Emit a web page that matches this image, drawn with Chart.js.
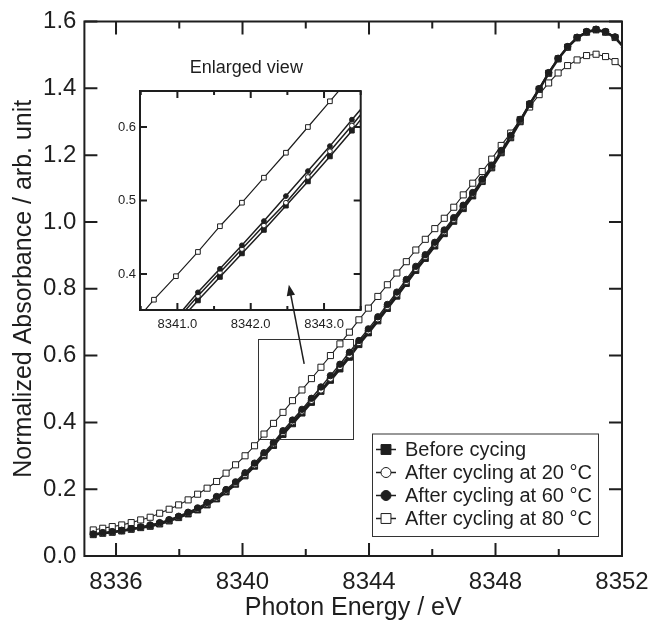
<!DOCTYPE html>
<html><head><meta charset="utf-8">
<script src="https://cdn.jsdelivr.net/npm/chart.js@4.4.1/dist/chart.umd.min.js"></script>
<style>
html,body{margin:0;padding:0;background:#fff;}
#wrap{position:relative;width:653px;height:623px;}
canvas{position:absolute;left:0;top:0;}
</style></head><body>
<div id="wrap"><canvas id="main" width="653" height="623"></canvas><canvas id="inset" width="653" height="623"></canvas></div>
<script>
// ---- data ----
const energy = [8335.28,8335.58,8335.88,8336.18,8336.48,8336.78,8337.08,8337.38,8337.68,8337.98,
8338.28,8338.58,8338.88,8339.18,8339.48,8339.78,8340.08,8340.38,8340.68,8340.98,
8341.28,8341.58,8341.88,8342.18,8342.48,8342.78,8343.08,8343.38,8343.68,8343.98,
8344.28,8344.58,8344.88,8345.18,8345.48,8345.78,8346.08,8346.38,8346.68,8346.98,
8347.28,8347.58,8347.88,8348.18,8348.48,8348.78,8349.08,8349.38,8349.68,8349.98,
8350.28,8350.58,8350.88,8351.18,8351.48,8351.78,8352.08];
const beforeCycling = [0.064,0.068,0.071,0.075,0.080,0.085,0.089,0.096,0.105,0.115,
0.126,0.138,0.153,0.171,0.192,0.215,0.240,0.269,0.300,0.331,
0.364,0.396,0.428,0.460,0.493,0.526,0.560,0.595,0.633,0.668,
0.704,0.741,0.778,0.816,0.855,0.891,0.928,0.965,1.002,1.040,
1.078,1.121,1.162,1.207,1.252,1.300,1.352,1.397,1.445,1.488,
1.523,1.551,1.568,1.575,1.568,1.552,1.520];
const cycling20 = [0.065,0.069,0.072,0.076,0.081,0.086,0.091,0.098,0.107,0.117,
0.129,0.141,0.156,0.174,0.195,0.218,0.244,0.273,0.304,0.336,
0.370,0.402,0.434,0.466,0.497,0.532,0.567,0.602,0.639,0.674,
0.710,0.747,0.784,0.822,0.861,0.897,0.934,0.971,1.008,1.046,
1.084,1.125,1.166,1.211,1.256,1.304,1.353,1.398,1.446,1.489,
1.524,1.552,1.569,1.576,1.569,1.553,1.521];
const cycling60 = [0.066,0.070,0.073,0.077,0.082,0.087,0.093,0.100,0.109,0.119,
0.131,0.144,0.160,0.178,0.199,0.222,0.249,0.278,0.309,0.340,
0.375,0.407,0.439,0.472,0.506,0.540,0.574,0.610,0.645,0.680,
0.716,0.753,0.790,0.828,0.867,0.902,0.939,0.976,1.013,1.050,
1.088,1.128,1.169,1.214,1.259,1.307,1.354,1.399,1.447,1.490,
1.525,1.553,1.570,1.577,1.570,1.554,1.522];
const cycling80 = [0.078,0.083,0.088,0.093,0.100,0.108,0.116,0.128,0.140,0.153,
0.168,0.185,0.203,0.223,0.248,0.273,0.300,0.330,0.365,0.397,
0.430,0.465,0.497,0.531,0.565,0.600,0.635,0.670,0.707,0.742,
0.777,0.812,0.847,0.881,0.916,0.948,0.980,1.011,1.044,1.081,
1.116,1.151,1.188,1.229,1.266,1.306,1.344,1.381,1.416,1.446,
1.468,1.485,1.498,1.502,1.495,1.480,1.455];
const seriesNames = ['Before cycing','After cycling at 20 °C','After cycling at 60 °C','After cycling at 80 °C'];
const xMajorTicks = [8336,8340,8344,8348,8352];
const xMinorTicks = [8338,8342,8346,8350];
const yTicks = [0.0,0.2,0.4,0.6,0.8,1.0,1.2,1.4,1.6];
const insetXMajorTicks = [8341.0,8342.0,8343.0];
const insetXMinorTicks = [8340.5,8341.5,8342.5,8343.5];
const insetYTicks = [0.4,0.5,0.6];
const insetXRange = [8340.49,8343.5];
const insetYRange = [0.351,0.649];
const xTitle = 'Photon Energy / eV';
const yTitle = 'Normalized Absorbance / arb. unit';
const insetTitle = 'Enlarged view';

// ---- chart ----
const FONT = "'Liberation Sans', Arial, Helvetica, sans-serif";
const INK = '#1e1e1e';
const seriesArrays = [beforeCycling, cycling20, cycling60, cycling80];
const styles = [
  {pointStyle:'rect', fill:INK, order:2},
  {pointStyle:'circle', fill:'#fff', order:1},
  {pointStyle:'circle', fill:INK, order:0},
  {pointStyle:'rect', fill:'#fff', order:3}
];
function makeDatasets(isInset){
  return seriesArrays.map((arr,i)=>{
    const s = styles[i];
    const rect = s.pointStyle==='rect';
    return {
      label: seriesNames[i],
      data: energy.map((x,k)=>({x:x, y:arr[k]})),
      showLine:true,
      borderColor: INK,
      borderWidth: isInset ? (i===3?1.2:1.5) : (i===0?2.6:(i===3?1.1:1.4)),
      pointStyle: s.pointStyle,
      pointRadius: isInset ? (rect?3.3:2.4) : (rect?4.3:3.2),
      pointBackgroundColor: s.fill,
      pointBorderColor: INK,
      pointBorderWidth: 1,
      order: s.order,
      clip: 0
    };
  });
}
function framePlugin(name, cfg){
  return {id:'frame'+name, afterDatasetsDraw(chart){
    const {ctx, chartArea:ca, scales:{x,y}} = chart;
    ctx.save();
    ctx.strokeStyle = INK; ctx.lineWidth = cfg.lw;
    ctx.beginPath();
    const vx = (list,len)=>list.forEach(v=>{const p=x.getPixelForValue(v);
      ctx.moveTo(p,ca.bottom); ctx.lineTo(p,ca.bottom-len);
      ctx.moveTo(p,ca.top); ctx.lineTo(p,ca.top+len);});
    vx(cfg.xMajor,cfg.major); vx(cfg.xMinor,cfg.minor);
    cfg.yTicks.forEach(v=>{const p=y.getPixelForValue(v);
      ctx.moveTo(ca.left,p); ctx.lineTo(ca.left+cfg.major,p);
      ctx.moveTo(ca.right,p); ctx.lineTo(ca.right-cfg.major,p);});
    ctx.stroke();
    ctx.strokeRect(ca.left, ca.top, ca.right-ca.left, ca.bottom-ca.top);
    ctx.restore();
  }};
}
const zoomRectPlugin = {id:'zoomRect', afterDatasetsDraw(chart){
  const {ctx, scales:{x,y}} = chart;
  const l=x.getPixelForValue(insetXRange[0]), r=x.getPixelForValue(insetXRange[1]);
  const t=y.getPixelForValue(insetYRange[1]), b=y.getPixelForValue(insetYRange[0]);
  ctx.save(); ctx.strokeStyle='#333'; ctx.lineWidth=1;
  ctx.strokeRect(Math.round(l)+0.5, Math.round(t)+0.5, Math.round(r-l), Math.round(b-t));
  ctx.restore();
}};
const legendPlugin = {id:'legendBox', afterDraw(chart){
  const ctx = chart.ctx;
  const box = {l:372, t:433.5, w:226, h:102.5};
  ctx.save();
  ctx.fillStyle='#fff'; ctx.fillRect(box.l,box.t,box.w,box.h);
  ctx.strokeStyle='#333'; ctx.lineWidth=1; ctx.strokeRect(box.l+0.5,box.t+0.5,box.w,box.h);
  seriesNames.forEach((name,i)=>{
    const yy = 449.5 + 23*i;
    ctx.strokeStyle=INK; ctx.lineWidth=1.5;
    ctx.beginPath(); ctx.moveTo(376,yy); ctx.lineTo(396,yy); ctx.stroke();
    ctx.fillStyle=styles[i].fill; ctx.strokeStyle=INK; ctx.lineWidth=1;
    Chart.helpers.drawPoint(ctx,{pointStyle:styles[i].pointStyle, radius: styles[i].pointStyle==='rect'?7:5, borderWidth:1, rotation:0},386,yy);
    ctx.fillStyle=INK; ctx.font='20px '+FONT; ctx.textBaseline='middle'; ctx.textAlign='left';
    ctx.fillText(name,405,yy+1);
  });
  ctx.restore();
}};

const mainChart = new Chart(document.getElementById('main'), {
  type:'scatter',
  data:{datasets: makeDatasets(false)},
  options:{
    responsive:false, animation:false, devicePixelRatio:1,
    layout:{padding:{left:0, top:21.5, right:31, bottom:0}},
    plugins:{legend:{display:false}, tooltip:{enabled:false}},
    scales:{
      x:{type:'linear', min:8335, max:8352,
        afterBuildTicks: ax=>{ ax.ticks = xMajorTicks.map(v=>({value:v})); },
        afterFit: s=>{ s.height=67; s.paddingLeft=0; s.paddingRight=0; },
        grid:{display:false, drawTicks:false}, border:{display:false},
        ticks:{font:{family:FONT,size:24}, color:INK, padding:12, maxRotation:0, minRotation:0, autoSkip:false, callback:v=>String(v)},
        title:{display:true, text:xTitle, font:{family:FONT,size:25}, color:INK, padding:{top:0,bottom:0}}
      },
      y:{type:'linear', min:0, max:1.6,
        afterBuildTicks: ax=>{ ax.ticks = yTicks.map(v=>({value:v})); },
        afterFit: s=>{ s.width=84.4; s.paddingTop=0; s.paddingBottom=0; },
        grid:{display:false, drawTicks:false}, border:{display:false},
        ticks:{font:{family:FONT,size:24}, color:INK, padding:8, autoSkip:false, callback:v=>Number(v).toFixed(1)},
        title:{display:true, text:yTitle, font:{family:FONT,size:25}, color:INK, padding:{top:9,bottom:0}}
      }
    }
  },
  plugins:[framePlugin('main',{lw:2, major:13, minor:7, xMajor:xMajorTicks, xMinor:xMinorTicks, yTicks:yTicks}), zoomRectPlugin, legendPlugin]
});

const arrowPlugin = {id:'arrow', afterDraw(chart){
  const ctx = chart.ctx;
  const mx = mainChart.scales.x, my = mainChart.scales.y;
  const ix = chart.scales.x, iy = chart.scales.y;
  const x0 = mx.getPixelForValue(8341.95), y0 = my.getPixelForValue(0.575);
  const x1 = ix.getPixelForValue(8342.52), y1 = iy.getPixelForValue(0.3855);
  const ang = Math.atan2(y1-y0, x1-x0);
  const hl = 11, hw = 4.2;
  ctx.save(); ctx.strokeStyle=INK; ctx.fillStyle=INK; ctx.lineWidth=1.5;
  ctx.beginPath(); ctx.moveTo(x0,y0); ctx.lineTo(x1-Math.cos(ang)*hl*0.8, y1-Math.sin(ang)*hl*0.8); ctx.stroke();
  ctx.beginPath(); ctx.moveTo(x1,y1);
  ctx.lineTo(x1-Math.cos(ang)*hl+Math.sin(ang)*hw, y1-Math.sin(ang)*hl-Math.cos(ang)*hw);
  ctx.lineTo(x1-Math.cos(ang)*hl-Math.sin(ang)*hw, y1-Math.sin(ang)*hl+Math.cos(ang)*hw);
  ctx.closePath(); ctx.fill();
  const ca = chart.chartArea;
  ctx.font='18px '+FONT; ctx.textAlign='center'; ctx.textBaseline='alphabetic';
  ctx.fillText(insetTitle,(ca.left+ca.right)/2-4,73);
  ctx.restore();
}};

const insetChart = new Chart(document.getElementById('inset'), {
  type:'scatter',
  data:{datasets: makeDatasets(true)},
  options:{
    responsive:false, animation:false, devicePixelRatio:1,
    layout:{padding:{left:100, top:91, right:292.3, bottom:283}},
    plugins:{legend:{display:false}, tooltip:{enabled:false}},
    scales:{
      x:{type:'linear', min:insetXRange[0], max:insetXRange[1],
        afterBuildTicks: ax=>{ ax.ticks = insetXMajorTicks.map(v=>({value:v})); },
        afterFit: s=>{ s.height=30; s.paddingLeft=0; s.paddingRight=0; },
        grid:{display:false, drawTicks:false}, border:{display:false},
        ticks:{font:{family:FONT,size:13}, color:INK, padding:7, maxRotation:0, minRotation:0, autoSkip:false, callback:v=>Number(v).toFixed(1)}
      },
      y:{type:'linear', min:insetYRange[0], max:insetYRange[1],
        afterBuildTicks: ax=>{ ax.ticks = insetYTicks.map(v=>({value:v})); },
        afterFit: s=>{ s.width=40; s.paddingTop=0; s.paddingBottom=0; },
        grid:{display:false, drawTicks:false}, border:{display:false},
        ticks:{font:{family:FONT,size:13}, color:INK, padding:4, autoSkip:false, callback:v=>Number(v).toFixed(1)}
      }
    }
  },
  plugins:[framePlugin('inset',{lw:2, major:7, minor:4, xMajor:insetXMajorTicks, xMinor:insetXMinorTicks, yTicks:insetYTicks}), arrowPlugin]
});
</script></body></html>
